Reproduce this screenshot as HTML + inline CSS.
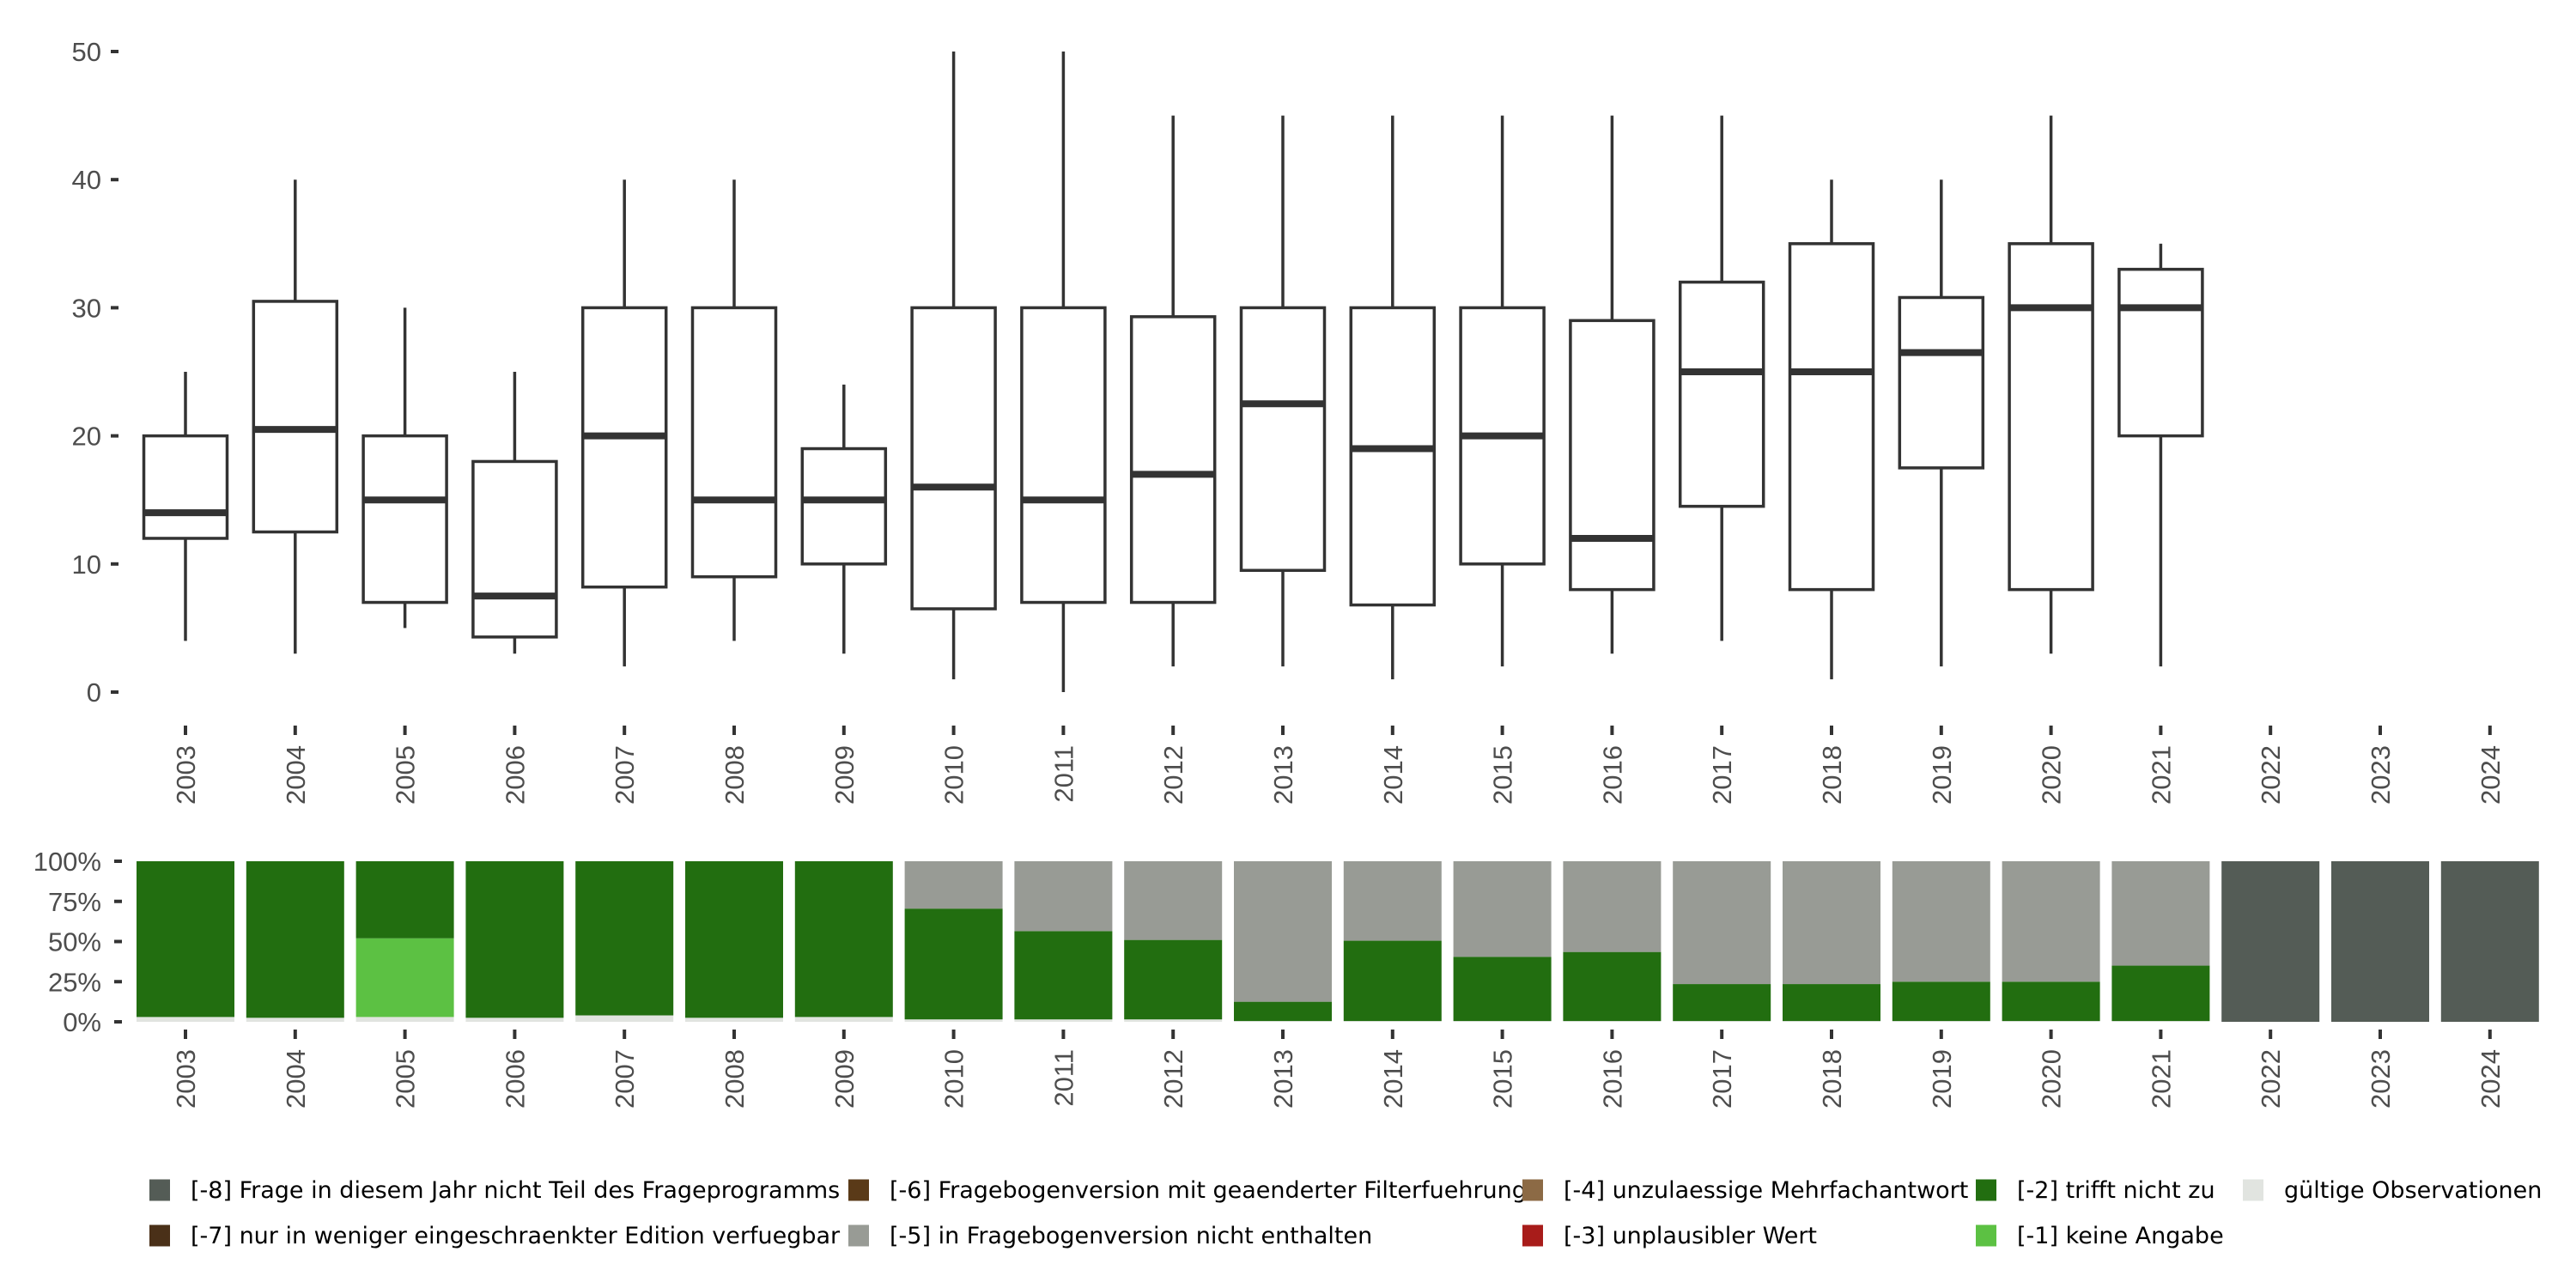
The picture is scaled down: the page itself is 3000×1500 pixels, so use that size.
<!DOCTYPE html>
<html><head><meta charset="utf-8"><style>
html,body{margin:0;padding:0;background:#fff}
svg{display:block;font-family:"Liberation Sans","DejaVu Sans",sans-serif}
</style></head><body>
<svg id="chart" width="3000" height="1500" viewBox="0 0 3000 1500" xmlns="http://www.w3.org/2000/svg">
<g id="topPanel"></g>
<g id="bottomPanel"></g>
<g id="legendPanel"></g>
</svg>
<script>
const years = ["2003","2004","2005","2006","2007","2008","2009","2010","2011","2012","2013","2014","2015","2016","2017","2018","2019","2020","2021","2022","2023","2024"];
const boxMin = [4,3,5,3,2,4,3,1,0,2,2,1,2,3,4,1,2,3,2];
const boxQ1  = [12,12.5,7,4.3,8.2,9,10,6.5,7,7,9.5,6.8,10,8,14.5,8,17.5,8,20];
const boxMed = [14,20.5,15,7.5,20,15,15,16,15,17,22.5,19,20,12,25,25,26.5,30,30];
const boxQ3  = [20,30.5,20,18,30,30,19,30,30,29.3,30,30,30,29,32,35,30.8,35,33];
const boxMax = [25,40,30,25,40,40,24,50,50,45,45,45,45,45,45,40,40,45,35];
const yTicks = [0,10,20,30,40,50];
const pctTicks = [0,25,50,75,100];
const pctLabels = ["0%","25%","50%","75%","100%"];
const shareValid = [3,2.5,3,2.5,4,2.5,3,1.5,1.5,1.5,0.5,0.5,0.5,0.5,0.5,0.5,0.5,0.5,0.5,0,0,0];
const shareM1 = [0,0,49,0,0,0,0,0,0,0,0,0,0,0,0,0,0,0,0,0,0,0];
const shareM2 = [97,97.5,48,97.5,96,97.5,97,69,55,49.5,12,50,40,43,23,23,24.5,24.5,34.5,0,0,0];
const shareM5 = [0,0,0,0,0,0,0,29.5,43.5,49,87.5,49.5,59.5,56.5,76.5,76.5,75,75,65,0,0,0];
const shareM8 = [0,0,0,0,0,0,0,0,0,0,0,0,0,0,0,0,0,0,0,100,100,100];
const series = [
 {name:"valid",vals:shareValid,color:"#e1e4e0"},
 {name:"m1",vals:shareM1,color:"#5cc143"},
 {name:"m2",vals:shareM2,color:"#226e10"},
 {name:"m5",vals:shareM5,color:"#989b95"},
 {name:"m8",vals:shareM8,color:"#545c56"}];
const legendLabels = ["[-8] Frage in diesem Jahr nicht Teil des Frageprogramms","[-7] nur in weniger eingeschraenkter Edition verfuegbar","[-6] Fragebogenversion mit geaenderter Filterfuehrung","[-5] in Fragebogenversion nicht enthalten","[-4] unzulaessige Mehrfachantwort","[-3] unplausibler Wert","[-2] trifft nicht zu","[-1] keine Angabe","gültige Observationen"];
const legendColors = ["#545c56","#4a3018","#5a3a18","#989b95","#8c6a45","#a81c1a","#226e10","#5cc143","#e1e4e0"];

const NS="http://www.w3.org/2000/svg";
function mk(tag,attrs,parent){const e=document.createElementNS(NS,tag);for(const k in attrs)e.setAttribute(k,attrs[k]);parent.appendChild(e);return e;}
const x0=216, step=127.8;
const xPos = i => x0+i*step;
const yTop = v => 806 - v*(746/50);
const yBot = p => 1190 - p*(187/100);
const gTop=document.getElementById('topPanel'), gBot=document.getElementById('bottomPanel'), gLeg=document.getElementById('legendPanel');
const txtCol="#4d4d4d";

yTicks.forEach(t=>{
  const y=yTop(t);
  const tk=mk('line',{x1:129,x2:138,y1:y,y2:y,stroke:"#333","stroke-width":4},gTop);
  
  
  const l=mk('text',{x:118,y:y+11,"text-anchor":"end","font-size":31,fill:txtCol},gTop);
  l.textContent=t;
  
  
});
years.forEach((yr,i)=>{
  const x=xPos(i);
  const tk=mk('line',{x1:x,x2:x,y1:845,y2:856,stroke:"#333","stroke-width":4},gTop);
  
  
  const l=mk('text',{x:0,y:0,"text-anchor":"end","font-size":31,fill:txtCol,transform:`translate(${x+11},868) rotate(-90)`},gTop);
  l.textContent=yr;
  
  
});
boxMed.forEach((m,i)=>{
  const x=xPos(i), w=97;
  const g=mk('g',{},gTop);
  
  
  mk('line',{x1:x,x2:x,y1:yTop(boxMax[i]),y2:yTop(boxQ3[i]),stroke:"#333","stroke-width":3.5},g);
  mk('line',{x1:x,x2:x,y1:yTop(boxQ1[i]),y2:yTop(boxMin[i]),stroke:"#333","stroke-width":3.5},g);
  mk('rect',{x:x-w/2,y:yTop(boxQ3[i]),width:w,height:yTop(boxQ1[i])-yTop(boxQ3[i]),fill:"#fff",stroke:"#333","stroke-width":3.5},g);
  mk('line',{x1:x-w/2,x2:x+w/2,y1:yTop(m),y2:yTop(m),stroke:"#333","stroke-width":8},g);
});

pctTicks.forEach((t,i)=>{
  const y=yBot(t);
  const tk=mk('line',{x1:133,x2:142,y1:y,y2:y,stroke:"#333","stroke-width":4},gBot);
  
  
  const l=mk('text',{x:118,y:y+11,"text-anchor":"end","font-size":31,fill:txtCol},gBot);
  l.textContent=pctLabels[i];
  
  
});
years.forEach((yr,i)=>{
  const x=xPos(i), w=114;
  let cum=0;
  series.forEach(s=>{
    const v=s.vals[i];
    if(v>0){
      const r=mk('rect',{x:x-w/2,y:yBot(cum+v),width:w,height:yBot(cum)-yBot(cum+v),fill:s.color},gBot);
      
      
    }
    cum+=v;
  });
  const tk=mk('line',{x1:x,x2:x,y1:1199,y2:1210,stroke:"#333","stroke-width":4},gBot);
  
  
  const l=mk('text',{x:0,y:0,"text-anchor":"end","font-size":31,fill:txtCol,transform:`translate(${x+11},1222) rotate(-90)`},gBot);
  l.textContent=yr;
  
  
});

const colX=[174,988,1773,2301,2612], rowY=[1386,1439];
legendLabels.forEach((lab,i)=>{
  const c=Math.floor(i/2), r=i%2;
  const g=mk('g',{},gLeg);
  
  
  mk('rect',{x:colX[c],y:rowY[r]-12.5,width:24,height:25,fill:legendColors[i]},g);
  const t=mk('text',{x:colX[c]+48,y:rowY[r]+9,"font-size":27,fill:"#000","font-family":"'DejaVu Sans',sans-serif"},g);
  t.textContent=lab;
});
</script>
</body></html>
